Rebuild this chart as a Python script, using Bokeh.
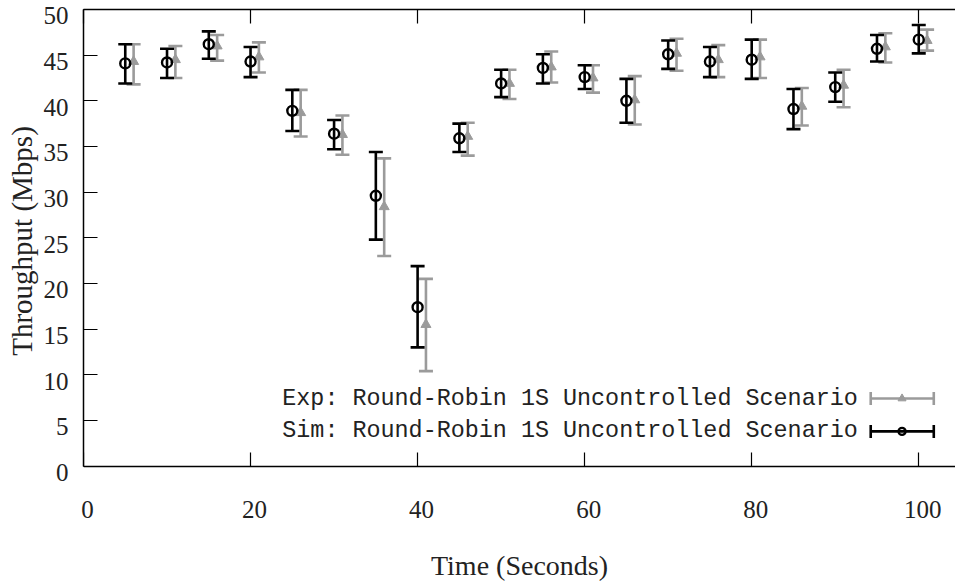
import numpy as np
from bokeh.plotting import figure
from bokeh.models import (ColumnDataSource, Range1d, LinearAxis, FixedTicker,
                          CustomJSTickFormatter)
from bokeh.transform import dodge
from bokeh.core.properties import value
from bokeh.embed import file_html
from bokeh.resources import INLINE

# ---------------- data ----------------
time = [5, 10, 15, 20, 25, 30, 35, 40, 45, 50, 55, 60, 65, 70, 75, 80, 85, 90, 95, 100]

sim_mean = [44.1, 44.2, 46.2, 44.3, 38.9, 36.4, 29.6, 17.4, 35.9, 41.9,
            43.6, 42.6, 40.0, 45.1, 44.3, 44.5, 39.1, 41.5, 45.7, 46.7]
sim_low = [41.9, 42.5, 44.6, 42.6, 36.7, 34.7, 24.8, 13.0, 34.4, 40.4,
           41.9, 41.3, 37.6, 43.5, 42.6, 42.4, 36.9, 39.9, 44.3, 45.2]
sim_high = [46.2, 45.7, 47.6, 45.9, 41.2, 37.9, 34.4, 21.9, 37.5, 43.4,
            45.1, 43.9, 42.4, 46.6, 45.9, 46.7, 41.3, 43.1, 47.2, 48.3]

exp_mean = [44.3, 44.5, 46.0, 44.8, 38.7, 36.3, 28.4, 15.5, 36.1, 41.9,
            43.7, 42.5, 40.1, 45.2, 44.5, 44.8, 39.4, 41.7, 45.9, 46.6]
exp_low = [41.8, 42.5, 44.4, 43.1, 36.1, 34.1, 23.0, 10.4, 34.0, 40.2,
           42.0, 40.9, 37.4, 43.3, 42.6, 42.5, 37.3, 39.3, 44.2, 45.5]
exp_high = [46.2, 46.0, 47.2, 46.4, 41.2, 38.4, 33.7, 20.5, 37.6, 43.4,
            45.4, 43.9, 42.7, 46.8, 46.1, 46.7, 41.4, 43.4, 47.4, 47.8]

exp_label = "Exp: Round-Robin 1S Uncontrolled Scenario"
sim_label = "Sim: Round-Robin 1S Uncontrolled Scenario"

x_ticks = [0, 20, 40, 60, 80, 100]
y_ticks = [0, 5, 10, 15, 20, 25, 30, 35, 40, 45, 50]

# ---------------- styles / layout ----------------
GRAY = "#9b9b9b"
BLACK = "#000000"
TEXT = "#222222"
SERIF = "Liberation Serif"
MONO = "Liberation Mono"
X_END = 104.4
Y_LAB_SHIFT = 0.7     # tick labels sit a few px below their ticks (as in the reference)
X_LAB_SHIFT = 0.48    # and a few px right of them

src = ColumnDataSource(dict(time=time, sim_mean=sim_mean, sim_low=sim_low, sim_high=sim_high,
                            exp_mean=exp_mean, exp_low=exp_low, exp_high=exp_high))

# the frame reaches a little below y=0 so that the "0" label (drawn lower than its tick) fits
p = figure(width=955, height=583, output_backend="svg", toolbar_location=None,
           x_range=Range1d(0, X_END), y_range=Range1d(-Y_LAB_SHIFT, 50),
           x_axis_location=None, y_axis_location=None,
           min_border_left=83, min_border_right=0, min_border_top=9, min_border_bottom=109)
p.extra_y_ranges = {"lab": Range1d(0, 50 + Y_LAB_SHIFT)}
p.extra_x_ranges = {"lab": Range1d(-X_LAB_SHIFT, X_END - X_LAB_SHIFT)}
p.outline_line_color = None
p.xgrid.visible = False
p.ygrid.visible = False
p.background_fill_color = "white"
p.border_fill_color = "white"

blank = CustomJSTickFormatter(code="return ''")

def tick_axis(ax):
    ax.formatter = blank
    ax.axis_line_width = 1.5
    ax.axis_line_color = "black"
    ax.major_tick_in = 14
    ax.major_tick_out = 0
    ax.major_tick_line_width = 1.2
    ax.minor_tick_line_color = None
    ax.major_label_standoff = 0
    ax.major_label_text_font_size = "0px"

def label_axis(ax, title_size):
    ax.axis_line_color = None
    ax.major_tick_line_color = None
    ax.minor_tick_line_color = None
    ax.major_tick_in = 0
    ax.major_tick_out = 0
    ax.major_label_text_font = SERIF
    ax.major_label_text_font_size = "25px"
    ax.major_label_text_color = TEXT
    ax.axis_label_text_font = SERIF
    ax.axis_label_text_font_size = title_size
    ax.axis_label_text_font_style = "normal"
    ax.axis_label_text_color = TEXT

# frame lines + inward ticks
xb = LinearAxis(ticker=FixedTicker(ticks=x_ticks), fixed_location=0)
tick_axis(xb)
p.add_layout(xb, "below")
xt = LinearAxis(ticker=FixedTicker(ticks=x_ticks))
tick_axis(xt)
p.add_layout(xt, "above")
yl = LinearAxis(ticker=FixedTicker(ticks=y_ticks), bounds=(0, 50))
tick_axis(yl)
p.add_layout(yl, "left")

# tick labels + titles
xlab = LinearAxis(ticker=FixedTicker(ticks=x_ticks), x_range_name="lab",
                  axis_label="Time (Seconds)")
label_axis(xlab, "28px")
xlab.major_label_standoff = 28
xlab.axis_label_standoff = 29
p.add_layout(xlab, "below")

ylab = LinearAxis(ticker=FixedTicker(ticks=y_ticks), y_range_name="lab",
                  axis_label="Throughput (Mbps)")
label_axis(ylab, "29px")
ylab.major_label_standoff = 15
ylab.axis_label_standoff = 3
p.add_layout(ylab, "left")

# ---------------- experiment (gray, shifted right by 1 s) ----------------
ex = dodge("time", 1.0, range=p.x_range)
p.segment(x0=ex, y0="exp_low", x1=ex, y1="exp_high", source=src,
          line_color=GRAY, line_width=2.6)
p.scatter(x=ex, y="exp_low", source=src, marker="dash", size=14,
          line_color=GRAY, line_width=2.6)
p.scatter(x=ex, y="exp_high", source=src, marker="dash", size=14,
          line_color=GRAY, line_width=2.6)
p.scatter(x=ex, y="exp_mean", source=src, marker="triangle", size=10,
          fill_color=GRAY, line_color=GRAY, line_width=1)

# ---------------- simulation (black) ----------------
p.segment(x0="time", y0="sim_low", x1="time", y1="sim_high", source=src,
          line_color=BLACK, line_width=2.6)
p.scatter(x="time", y="sim_low", source=src, marker="dash", size=14,
          line_color=BLACK, line_width=2.6)
p.scatter(x="time", y="sim_high", source=src, marker="dash", size=14,
          line_color=BLACK, line_width=2.6)
p.scatter(x="time", y="sim_mean", source=src, marker="circle", size=10,
          fill_color=None, line_color=BLACK, line_width=2.4)

# ---------------- key (manual, gnuplot style) ----------------
KEY_TEXT_X = 92.7
KEY_X0, KEY_X1, KEY_XM = 94.25, 101.8, 98.0
KEY_Y = [7.4, 3.8]
key = ColumnDataSource(dict(label=[exp_label, sim_label], y=KEY_Y,
                            x0=[KEY_X0] * 2, x1=[KEY_X1] * 2, xm=[KEY_XM] * 2,
                            tx=[KEY_TEXT_X] * 2, col=[GRAY, BLACK]))
p.text(x="tx", y="y", text="label", source=key, text_font=value(MONO),
       text_font_size="23.4px", text_align="right", text_baseline="middle",
       text_color=TEXT)
p.segment(x0="x0", y0="y", x1="x1", y1="y", source=key, line_color="col", line_width=2.6)
p.scatter(x="x0", y="y", source=key, marker="dash", angle=np.pi / 2, size=13,
          line_color="col", line_width=2.6)
p.scatter(x="x1", y="y", source=key, marker="dash", angle=np.pi / 2, size=13,
          line_color="col", line_width=2.6)
k0 = ColumnDataSource(dict(x=[KEY_XM], y=[KEY_Y[0]]))
k1 = ColumnDataSource(dict(x=[KEY_XM], y=[KEY_Y[1]]))
p.scatter(x="x", y="y", source=k0, marker="triangle", size=8,
          fill_color=GRAY, line_color=GRAY)
p.scatter(x="x", y="y", source=k1, marker="circle", size=7,
          fill_color=None, line_color=BLACK, line_width=2.4)

open("out.html", "w").write(file_html(p, INLINE))
